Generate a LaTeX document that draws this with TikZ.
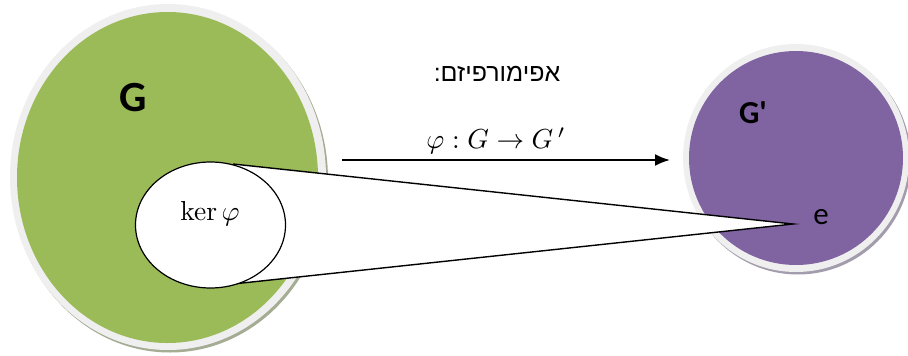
\documentclass[tikz,border=0pt]{standalone}
\usepackage[no-math]{fontspec}
\usetikzlibrary{shapes.geometric,arrows.meta}
\setmainfont{Carlito}
\newfontfamily\hebfont[Script=Hebrew]{Liberation Sans}
\TeXXeTstate=1
\definecolor{ggreen}{HTML}{9BBB59}
\definecolor{gpurple}{HTML}{8064A2}
\definecolor{ringgray}{HTML}{EFEFEF}
\definecolor{gshadow}{HTML}{A4AC94}
\definecolor{pshadow}{HTML}{A29CAC}
\tikzset{
  blob/.style={ellipse, inner sep=0pt, draw=none},
  lbl/.style={inner sep=0pt, text=black},
  wedge/.style={draw=black, line width=1.4pt, fill=white, line join=miter},
  maparrow/.style={line width=2pt, -{Latex[length=15pt,width=12pt]}}
}
\begin{document}
\begin{tikzpicture}[x=1pt,y=-1pt]
\useasboundingbox (0,0) rectangle (908,356);
% G set
\node[blob, fill=gshadow, minimum width=316pt, minimum height=346pt] (Gsh) at (170,179.5) {};
\node[blob, fill=ringgray, minimum width=316pt, minimum height=346pt] (Gring) at (168,177) {};
\node[blob, fill=ggreen, minimum width=301pt, minimum height=331pt] (G) at (167.5,177.5) {};
% G' set
\node[blob, fill=pshadow, minimum width=226pt, minimum height=228pt] (Hsh) at (798,160.5) {};
\node[blob, fill=ringgray, minimum width=226pt, minimum height=228pt] (Hring) at (796,158) {};
\node[blob, fill=gpurple, minimum width=214pt, minimum height=214pt] (H) at (796,158) {};
% wedge
\coordinate (kt) at (233,164);
\coordinate (kb) at (233,284);
\coordinate (etip) at (793,224);
\draw[wedge] (kt) -- (etip) -- (kb);
% kernel
\node[ellipse, draw=black, line width=1.2pt, fill=white, inner sep=0pt,
      minimum width=150pt, minimum height=126pt] (K) at (210.5,225) {};
\node[lbl, scale=2.75] (Klbl) at (210,214) {$\ker\varphi$};
% labels
\node[lbl, font=\fontsize{43}{43}\selectfont\bfseries] (Glbl) at (133.5,98) {G};
\node[lbl, font=\fontsize{32}{32}\selectfont\bfseries] (Hlbl) at (753,113) {G\textquotesingle};
\node[lbl, font=\fontsize{31}{31}\selectfont] (elbl) at (821,217) {e};
\node[lbl, font=\fontsize{25}{25}\selectfont] (heb) at (497,74) {\hebfont\beginR אפימורפיזם:\endR};
\node[lbl, scale=2.75] (phi) at (496,141) {$\varphi : G \to G\,'$};
% arrow
\coordinate (a1) at (342,160);
\coordinate (a2) at (670,160);
\draw[maparrow] (a1) -- (a2);
\end{tikzpicture}
\end{document}
